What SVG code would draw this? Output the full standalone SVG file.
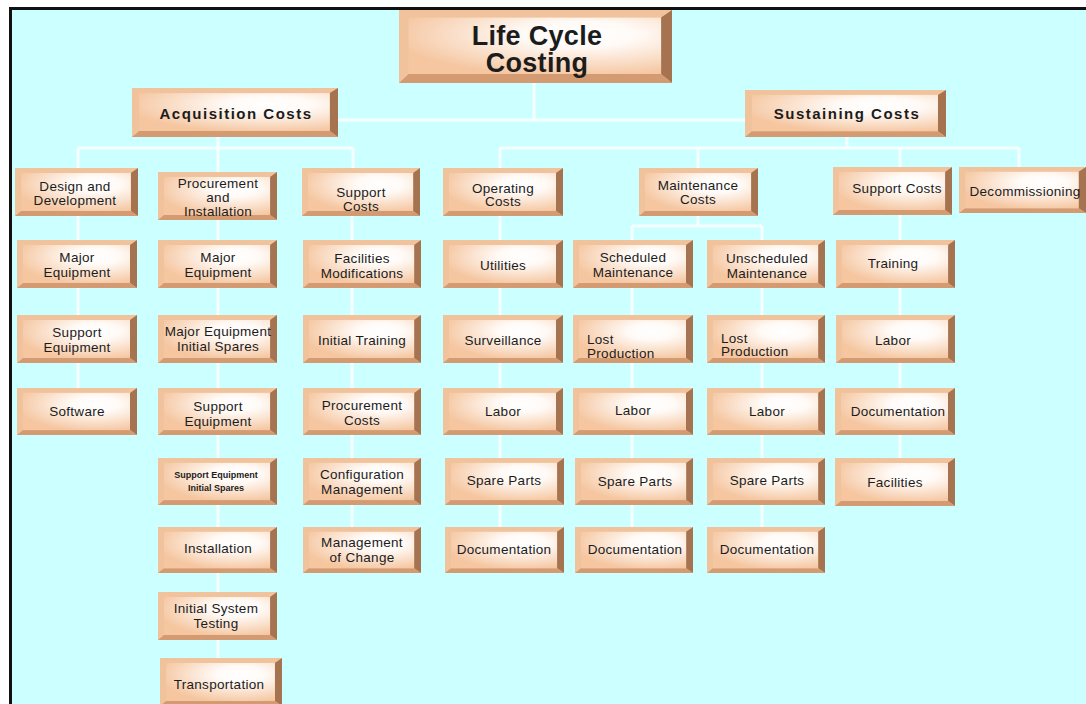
<svg xmlns="http://www.w3.org/2000/svg" width="1086" height="704" viewBox="0 0 1086 704">
<style>
.t{font-family:"Liberation Sans",Arial,sans-serif;font-size:13.5px;fill:#1c1c1c;text-anchor:middle;letter-spacing:0.3px}
.tl{text-anchor:start}
.h{font-weight:bold;font-size:15px;letter-spacing:1.5px}
.r{font-weight:bold;font-size:27px;letter-spacing:0.3px}
.s{font-weight:bold;font-size:9px;letter-spacing:0}
.c{stroke:#f6ffff;stroke-width:3;fill:none}
</style>
<defs>
<radialGradient id="face" cx="0.68" cy="0.3" r="0.75">
<stop offset="0" stop-color="#ffffff"/>
<stop offset="0.3" stop-color="#fffaf6"/>
<stop offset="1" stop-color="#f5c6a0"/>
</radialGradient>
<symbol id="b" viewBox="0 0 120 48" preserveAspectRatio="none">
<rect x="0" y="0" width="120" height="48" fill="#f1c39d"/>
<polygon points="113,5 120,0 120,48 113,43" fill="#a67350"/>
<polygon points="0,48 6,43 113,43 120,48" fill="#d49b72"/>
<rect x="6" y="5" width="107" height="38" fill="url(#face)"/>
</symbol>
<symbol id="bb" viewBox="0 0 200 48" preserveAspectRatio="none">
<rect x="0" y="0" width="200" height="48" fill="#f1c39d"/>
<polygon points="192,5 200,0 200,48 192,42" fill="#a67350"/>
<polygon points="0,48 7,42 192,42 200,48" fill="#d49b72"/>
<rect x="7" y="5" width="185" height="37" fill="url(#face)"/>
</symbol>
</defs>
<rect x="0" y="0" width="1086" height="704" fill="#ffffff"/>
<rect x="10" y="8" width="1076" height="696" fill="#ccffff"/>
<path d="M10.5 704 V8.5 H1086" stroke="#111" stroke-width="3" fill="none"/>
<g id="connectors">
<path class="c" d="M534 83 V120 M338 120 H746"/>
<path class="c" d="M218 137 V148 M78 148 H353 M78 148 V388 M218 148 V658 M353 148 V168 M352 216 V527"/>
<path class="c" d="M847 137 V148 M500 148 H1019 M500 148 V527 M698 148 V226 M900 148 V458 M1019 148 V167"/>
<path class="c" d="M632 226 H762 M632 226 V527 M762 226 V527"/>
</g>
<g id="n-root"><use href="#bb" x="399" y="10" width="273" height="73"/><text class="t r" x="537" y="45">Life Cycle</text><text class="t r" x="537" y="72">Costing</text></g>
<g id="n-acq"><use href="#bb" x="132" y="88" width="206" height="49"/><text class="t h" x="236" y="119">Acquisition Costs</text></g>
<g id="n-sus"><use href="#bb" x="745" y="90" width="201" height="47"/><text class="t h" x="847" y="119">Sustaining Costs</text></g>

<g id="n-dd"><use href="#b" x="15" y="168" width="123" height="48"/><text class="t" x="75" y="191">Design and</text><text class="t" x="75" y="205">Development</text></g>
<g id="n-pi"><use href="#b" x="158" y="172" width="119" height="48"/><text class="t" x="218" y="188">Procurement</text><text class="t" x="218" y="202">and</text><text class="t" x="218" y="216">Installation</text></g>
<g id="n-sc1"><use href="#b" x="302" y="168" width="118" height="48"/><text class="t" x="361" y="197">Support</text><text class="t" x="361" y="211">Costs</text></g>
<g id="n-oc"><use href="#b" x="443" y="168" width="120" height="48"/><text class="t" x="503" y="193">Operating</text><text class="t" x="503" y="206">Costs</text></g>
<g id="n-mc"><use href="#b" x="639" y="168" width="119" height="48"/><text class="t" x="698" y="190">Maintenance</text><text class="t" x="698" y="204">Costs</text></g>
<g id="n-sc2"><use href="#b" x="833" y="167" width="119" height="48"/><text class="t" x="897" y="193">Support Costs</text></g>
<g id="n-dec"><use href="#b" x="959" y="167" width="127" height="46"/><text class="t" x="1025" y="196">Decommissioning</text></g>

<g id="n-me1"><use href="#b" x="17" y="240" width="120" height="48"/><text class="t" x="77" y="262">Major</text><text class="t" x="77" y="277">Equipment</text></g>
<g id="n-se1"><use href="#b" x="17" y="315" width="120" height="48"/><text class="t" x="77" y="337">Support</text><text class="t" x="77" y="352">Equipment</text></g>
<g id="n-sw"><use href="#b" x="17" y="388" width="120" height="47"/><text class="t" x="77" y="416">Software</text></g>

<g id="n-me2"><use href="#b" x="158" y="240" width="119" height="48"/><text class="t" x="218" y="262">Major</text><text class="t" x="218" y="277">Equipment</text></g>
<g id="n-meis"><use href="#b" x="158" y="315" width="119" height="48"/><text class="t" x="218" y="336">Major Equipment</text><text class="t" x="218" y="351">Initial Spares</text></g>
<g id="n-se2"><use href="#b" x="158" y="388" width="119" height="47"/><text class="t" x="218" y="411">Support</text><text class="t" x="218" y="426">Equipment</text></g>
<g id="n-seis"><use href="#b" x="158" y="458" width="119" height="47"/><text class="t s" x="216" y="478">Support Equipment</text><text class="t s" x="216" y="491">Initial Spares</text></g>
<g id="n-inst"><use href="#b" x="158" y="527" width="119" height="46"/><text class="t" x="218" y="553">Installation</text></g>
<g id="n-ist"><use href="#b" x="158" y="592" width="119" height="48"/><text class="t" x="216" y="613">Initial System</text><text class="t" x="216" y="628">Testing</text></g>
<g id="n-tr"><use href="#b" x="160" y="658" width="122" height="48"/><text class="t" x="219" y="689">Transportation</text></g>

<g id="n-fm"><use href="#b" x="303" y="240" width="118" height="48"/><text class="t" x="362" y="263">Facilities</text><text class="t" x="362" y="278">Modifications</text></g>
<g id="n-it"><use href="#b" x="303" y="315" width="118" height="48"/><text class="t" x="362" y="345">Initial Training</text></g>
<g id="n-pc"><use href="#b" x="303" y="388" width="118" height="47"/><text class="t" x="362" y="410">Procurement</text><text class="t" x="362" y="425">Costs</text></g>
<g id="n-cm"><use href="#b" x="303" y="458" width="118" height="47"/><text class="t" x="362" y="479">Configuration</text><text class="t" x="362" y="494">Management</text></g>
<g id="n-moc"><use href="#b" x="303" y="527" width="118" height="46"/><text class="t" x="362" y="547">Management</text><text class="t" x="362" y="562">of Change</text></g>

<g id="n-ut"><use href="#b" x="443" y="240" width="120" height="48"/><text class="t" x="503" y="270">Utilities</text></g>
<g id="n-sv"><use href="#b" x="443" y="315" width="120" height="48"/><text class="t" x="503" y="345">Surveillance</text></g>
<g id="n-lb4"><use href="#b" x="443" y="388" width="120" height="47"/><text class="t" x="503" y="416">Labor</text></g>
<g id="n-sp4"><use href="#b" x="445" y="458" width="119" height="47"/><text class="t" x="504" y="485">Spare Parts</text></g>
<g id="n-doc4"><use href="#b" x="445" y="527" width="119" height="46"/><text class="t" x="504" y="554">Documentation</text></g>

<g id="n-sm"><use href="#b" x="573" y="240" width="120" height="48"/><text class="t" x="633" y="262">Scheduled</text><text class="t" x="633" y="277">Maintenance</text></g>
<g id="n-lp5"><use href="#b" x="573" y="315" width="120" height="48"/><text class="t tl" x="587" y="344">Lost</text><text class="t tl" x="587" y="358">Production</text></g>
<g id="n-lb5"><use href="#b" x="573" y="388" width="120" height="47"/><text class="t" x="633" y="415">Labor</text></g>
<g id="n-sp5"><use href="#b" x="575" y="458" width="118" height="47"/><text class="t" x="635" y="486">Spare Parts</text></g>
<g id="n-doc5"><use href="#b" x="575" y="527" width="118" height="46"/><text class="t" x="635" y="554">Documentation</text></g>

<g id="n-um"><use href="#b" x="707" y="240" width="118" height="48"/><text class="t" x="767" y="263">Unscheduled</text><text class="t" x="767" y="278">Maintenance</text></g>
<g id="n-lp6"><use href="#b" x="707" y="315" width="118" height="48"/><text class="t tl" x="721" y="343">Lost</text><text class="t tl" x="721" y="356">Production</text></g>
<g id="n-lb6"><use href="#b" x="707" y="388" width="118" height="47"/><text class="t" x="767" y="416">Labor</text></g>
<g id="n-sp6"><use href="#b" x="707" y="458" width="118" height="47"/><text class="t" x="767" y="485">Spare Parts</text></g>
<g id="n-doc6"><use href="#b" x="707" y="527" width="118" height="46"/><text class="t" x="767" y="554">Documentation</text></g>

<g id="n-trn"><use href="#b" x="836" y="240" width="119" height="48"/><text class="t" x="893" y="268">Training</text></g>
<g id="n-lb7"><use href="#b" x="836" y="315" width="119" height="48"/><text class="t" x="893" y="345">Labor</text></g>
<g id="n-doc7"><use href="#b" x="835" y="388" width="120" height="47"/><text class="t" x="898" y="416">Documentation</text></g>
<g id="n-fac"><use href="#b" x="835" y="458" width="120" height="48"/><text class="t" x="895" y="487">Facilities</text></g>
</svg>
